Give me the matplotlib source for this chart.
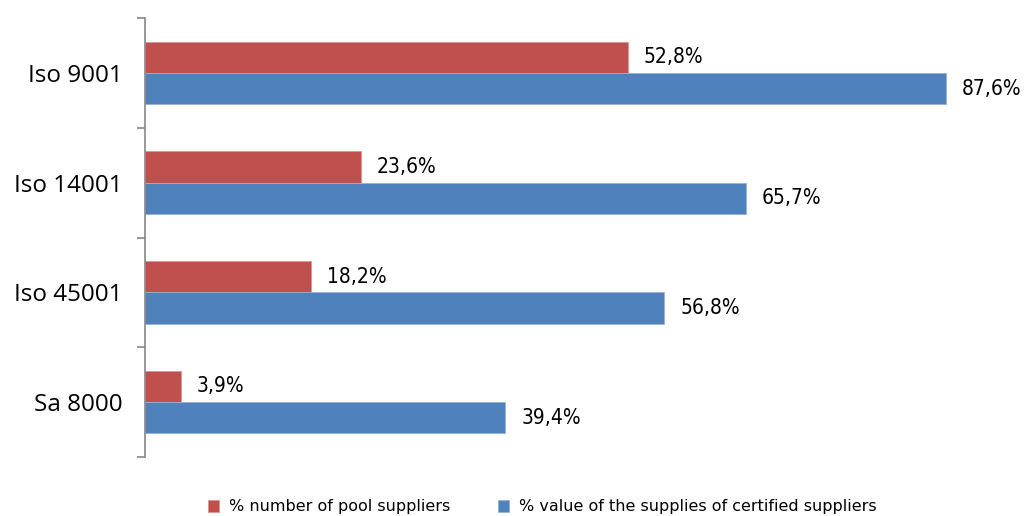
import numpy as np
import matplotlib.pyplot as plt

categories = ["Iso 9001", "Iso 14001", "Iso 45001", "Sa 8000"]
pool_pct = [52.8, 23.6, 18.2, 3.9]
value_pct = [87.6, 65.7, 56.8, 39.4]
series_names = ["% number of pool suppliers",
                "% value of the supplies of certified suppliers"]

red = "#C0504D"
blue = "#4F81BD"
label_font = "Open Sans"
value_font = "DejaVu Sans"

fig = plt.figure(figsize=(10.26, 5.16), dpi=100)
ax = fig.add_axes([145 / 1026, 1 - 457 / 516, 1 - 145 / 1026, (457 - 18) / 516])

y = np.arange(len(categories))
h = 0.285
b1 = ax.barh(y - h / 2, pool_pct, height=h, color=red, edgecolor="#D99694",
             linewidth=0.6, label=series_names[0])
b2 = ax.barh(y + h / 2, value_pct, height=h, color=blue, edgecolor="#95B3D7",
             linewidth=0.6, label=series_names[1])

# value labels just past the end of each bar
for bars, vals in ((b1, pool_pct), (b2, value_pct)):
    for bar, v in zip(bars, vals):
        ax.annotate(f"{v:.1f}%".replace(".", ","),
                    (bar.get_width(), bar.get_y() + bar.get_height() / 2),
                    xytext=(16, 0), textcoords="offset pixels",
                    va="center", ha="left", fontsize=15, fontstretch="condensed",
                    family=value_font)

ax.set_xlim(0, (1026 - 145) / 9.144)
ax.set_ylim(len(categories) - 0.5, -0.5)
ax.set_xticks([])
ax.set_yticks(y)
ax.set_yticklabels(categories, fontsize=17.5, family=label_font)
ax.set_yticks(np.arange(-0.5, len(categories)), minor=True)
ax.tick_params(axis="y", which="major", length=0, pad=16)
ax.tick_params(axis="y", which="minor", length=6, color="#868686", width=1.2)

for side in ("top", "right", "bottom"):
    ax.spines[side].set_visible(False)
ax.spines["left"].set_color("#868686")
ax.spines["left"].set_linewidth(1.2)

fig.legend(handles=[b1, b2], loc="center", bbox_to_anchor=(542 / 1026, 1 - 507 / 516),
           ncol=2, frameon=False, handlelength=0.7, handleheight=0.7,
           handletextpad=0.6, columnspacing=3.0,
           prop={"family": value_font, "size": 11.5})

fig.savefig("out.png", dpi=100)
